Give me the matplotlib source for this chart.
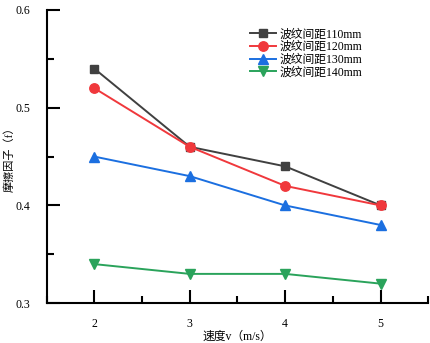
import matplotlib
matplotlib.use("Agg")
import matplotlib.pyplot as plt
from matplotlib.ticker import MultipleLocator

speeds = [2, 3, 4, 5]
s110 = [0.54, 0.46, 0.44, 0.40]
s120 = [0.52, 0.46, 0.42, 0.40]
s130 = [0.45, 0.43, 0.40, 0.38]
s140 = [0.34, 0.33, 0.33, 0.32]
labels = ["波纹间距110mm", "波纹间距120mm", "波纹间距130mm", "波纹间距140mm"]
ytick_vals = [0.3, 0.4, 0.5, 0.6]
ytick_labels = ['0.3', '0.4', '0.5', '0.6']

fam = ['Liberation Serif', 'Noto Sans CJK SC']
plt.rcParams['font.family'] = fam

fig = plt.figure(figsize=(4.31, 3.43), dpi=100)
ax = fig.add_axes([0.108, 0.116, 0.886, 0.855])

series = [s110, s120, s130, s140]
colors = ['#404040', '#f0383c', '#1b6fe0', '#2aa35b']
markers = ['s', 'o', '^', 'v']
msizes = [6, 6.8, 7, 7]
for ys, c, m, ms, lab in zip(series, colors, markers, msizes, labels):
    ax.plot(speeds, ys, color=c, marker=m, markersize=ms, linewidth=1.4, label=lab)

ax.set_xlim(1.5, 5.5)
ax.set_ylim(0.3, 0.6)
ax.xaxis.set_major_locator(MultipleLocator(1))
ax.xaxis.set_minor_locator(MultipleLocator(0.5))
ax.yaxis.set_minor_locator(MultipleLocator(0.05))
ax.set_yticks(ytick_vals)
ax.set_yticklabels(ytick_labels)
for s in ['top', 'right']:
    ax.spines[s].set_visible(False)
for s in ['left', 'bottom']:
    ax.spines[s].set_linewidth(1.5)
ax.tick_params(which='major', direction='in', length=9.5, width=1.5, labelsize=8.5)
ax.tick_params(which='minor', direction='in', length=5, width=1.5)
ax.tick_params(axis='x', pad=11)
ax.tick_params(axis='y', pad=12)

ax.set_xlabel("速度v（m/s）", fontsize=8.5, labelpad=0)
ax.set_ylabel("摩擦因子（f）", fontsize=8, labelpad=0)

leg = ax.legend(loc='upper left', bbox_to_anchor=(0.51, 0.965), frameon=False,
                fontsize=8.5, handlelength=2.2, handletextpad=0.3, labelspacing=0.06,
                borderpad=0.2)
fig.savefig("out.png", dpi=100)
